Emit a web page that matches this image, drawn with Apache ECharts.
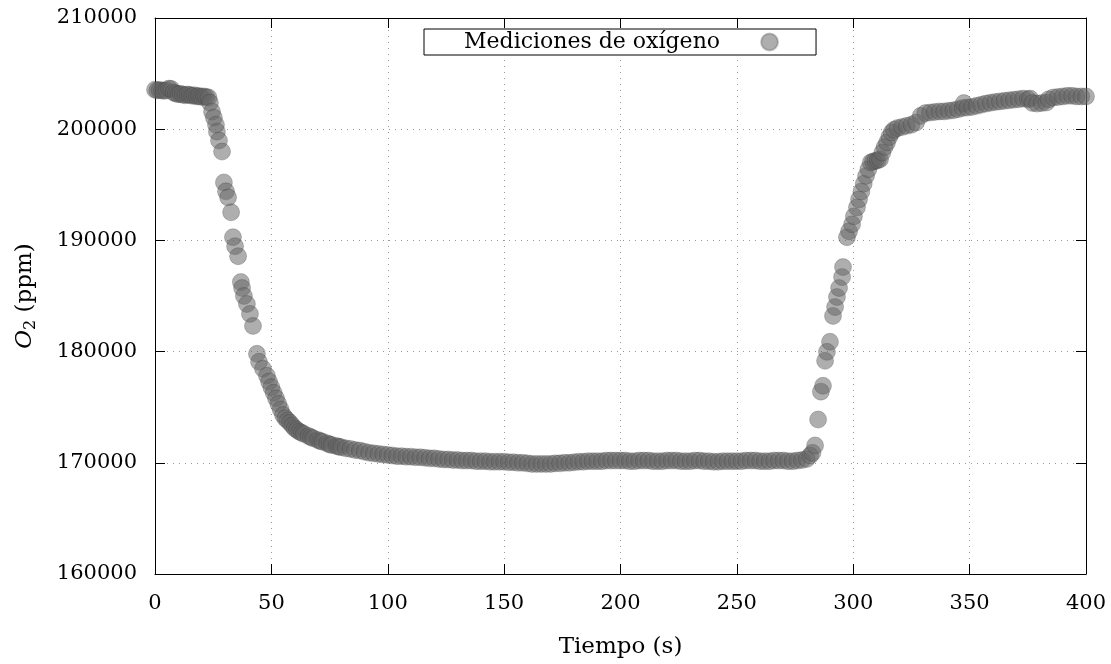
<!DOCTYPE html>
<html>
<head>
<meta charset="utf-8">
<title>Mediciones de oxígeno</title>
<script src="https://cdn.jsdelivr.net/npm/echarts@6/dist/echarts.min.js"></script>
<style>
  html, body { margin: 0; padding: 0; background: #fff; }
  #chart { width: 1111px; height: 664px; }
</style>
</head>
<body>
<div id="chart"></div>
<script>
// eje x: tiempo (s), eje y: O2 (ppm)
const xTicks = [0, 50, 100, 150, 200, 250, 300, 350, 400];
const yTicks = [160000, 170000, 180000, 190000, 200000, 210000];

// tramo inicial, antes de cerrar (t, ppm)
const inicio = [
  [0, 203550], [1, 203500], [2, 203520], [3, 203480], [4, 203450], [5, 203500],
  [6, 203650], [7, 203620], [8, 203300], [9, 203200], [10, 203150], [11, 203180],
  [12, 203100], [13, 203050], [14, 203120], [15, 203080], [16, 203000], [17, 203050],
  [18, 202950], [19, 202980], [20, 202900], [21, 202950], [22, 202900], [23, 202850]
];

// bajada del oxígeno
const bajada = [
  [23.6, 202380], [24.5, 201580], [25.3, 201040], [26.2, 200410], [26.6, 199780],
  [27.5, 198980], [28.8, 197990], [29.6, 195210], [30.5, 194410], [31.4, 193870],
  [32.7, 192530], [33.5, 190290], [34.4, 189480], [35.7, 188580], [36.9, 186250],
  [37.4, 185720], [38.2, 185000], [39.5, 184280], [40.8, 183390], [42.1, 182310],
  [43.8, 179800], [44.7, 179080], [46.4, 178460], [48.1, 177830], [49, 177300],
  [50, 176800], [51, 176300], [52, 175800], [53, 175300], [54, 174800],
  [55, 174300], [56, 174000], [57, 173800], [58, 173600], [59, 173350]
];

// meseta en ~170000
const meseta = [
  [60, 173100], [61, 172950], [62, 172800], [63, 172700], [64, 172600], [66, 172400],
  [67, 172300], [68, 172200], [70, 172050], [71, 171950], [72, 171900], [74, 171750],
  [75, 171650], [76, 171600], [78, 171500], [79, 171450], [80, 171400], [82, 171300],
  [84, 171250], [86, 171150], [88, 171100], [90, 171000], [92, 170900], [94, 170850],
  [96, 170800], [98, 170750], [100, 170700], [102, 170660], [104, 170600], [106, 170600],
  [108, 170550], [110, 170550], [112, 170500], [114, 170500], [116, 170450], [118, 170400],
  [120, 170400], [122, 170350], [124, 170300], [126, 170300], [128, 170250], [130, 170250],
  [132, 170200], [134, 170200], [136, 170200], [138, 170150], [140, 170150], [142, 170150],
  [144, 170100], [146, 170100], [148, 170100], [150, 170100], [152, 170050], [154, 170050],
  [156, 170000], [158, 170000], [160, 169950], [162, 169900], [164, 169900], [166, 169900],
  [168, 169900], [170, 169900], [172, 169950], [174, 169950], [176, 170000], [178, 170000],
  [180, 170050], [182, 170100], [184, 170100], [186, 170150], [188, 170150], [190, 170150],
  [192, 170150], [194, 170200], [196, 170200], [198, 170200], [200, 170200], [202, 170200],
  [204, 170150], [206, 170150], [208, 170200], [210, 170200], [212, 170200], [214, 170150],
  [216, 170150], [218, 170150], [220, 170200], [222, 170200], [224, 170200], [226, 170150],
  [228, 170150], [230, 170150], [232, 170200], [234, 170200], [236, 170150], [238, 170150],
  [240, 170100], [242, 170100], [244, 170150], [246, 170150], [248, 170150], [250, 170150],
  [252, 170150], [254, 170200], [256, 170200], [258, 170200], [260, 170150], [262, 170150],
  [264, 170150], [266, 170200], [268, 170200], [270, 170200], [272, 170150], [274, 170150],
  [276, 170200], [278, 170250], [280, 170350], [281.5, 170650], [282.5, 170900]
];

// subida al abrir
const subida = [
  [283.6, 171560], [284.9, 173890], [286.1, 176400], [287.0, 176930], [287.9, 179170],
  [288.7, 179980], [290.0, 180880], [291.3, 183210], [292.2, 184010], [293.0, 184910],
  [293.9, 185720], [295.2, 186700], [295.6, 187600], [297.3, 190290], [298.2, 190820],
  [299.5, 191450], [300.3, 192170], [301.6, 192970], [302.5, 193690], [303.5, 194400],
  [304.5, 195100], [305.5, 195800], [306.5, 196400], [307.5, 197000], [308.5, 197100],
  [309.5, 197150], [310.5, 197200], [311.5, 197300], [312.5, 197900], [313.5, 198400],
  [314.5, 198800], [315.5, 199300], [316.5, 199700], [317.5, 199950], [319, 200100],
  [321, 200200], [323, 200300], [325, 200400], [327, 200600], [329, 201200]
];

// tramo final
const final = [
  [331, 201450], [333, 201500], [335, 201550], [337, 201600], [339, 201600], [341, 201650],
  [343, 201700], [345, 201800], [347, 201900], [347.5, 202350], [349, 201950], [351, 202000],
  [353, 202100], [355, 202200], [357, 202300], [359, 202380], [361, 202450], [363, 202500],
  [365, 202550], [367, 202600], [369, 202650], [371, 202700], [373, 202750], [375, 202700],
  [376, 202750], [377, 202350], [379, 202300], [381, 202350], [383, 202400], [384, 202700],
  [386, 202850], [388, 202900], [390, 202950], [392, 203000], [394, 203000], [396, 202950],
  [398, 202950], [400, 202950]
];

const mediciones = [].concat(inicio, bajada, meseta, subida, final);

const fuente = 'DejaVu Serif';
const chart = echarts.init(document.getElementById('chart'));

const gridLine = { show: true, lineStyle: { color: '#999', width: 1, type: [1, 5] } };
const tick = { show: true, inside: true, length: 10, lineStyle: { color: '#000', width: 1 } };
const line = { show: true, onZero: false, lineStyle: { color: '#000', width: 1 } };

const option = {
  backgroundColor: '#fff',
  animation: false,
  textStyle: { fontFamily: fuente },
  grid: { left: 155, right: 25, top: 18, bottom: 88 },
  legend: {
    data: ['Mediciones de oxígeno'],
    left: 424, top: 29,
    align: 'right',
    padding: [2, 37, 2, 40],
    itemWidth: 17, itemHeight: 17,
    borderColor: '#000', borderWidth: 1, borderRadius: 0,
    backgroundColor: '#fff',
    textStyle: { fontFamily: fuente, fontSize: 22, color: '#000', padding: [0, 36, 0, 0] }
  },
  xAxis: [
    {
      type: 'value', min: 0, max: 400, interval: 50,
      name: 'Tiempo (s)', nameLocation: 'middle', nameGap: 62,
      nameTextStyle: { fontFamily: fuente, fontSize: 23, color: '#000' },
      axisLine: line, axisTick: tick, splitLine: gridLine,
      axisLabel: { margin: 19, fontFamily: fuente, fontSize: 21, color: '#000',
        formatter: v => xTicks.includes(v) ? String(v) : '' }
    },
    {
      type: 'value', position: 'top', min: 0, max: 400, interval: 50,
      axisLine: line, axisTick: tick, splitLine: { show: false }, axisLabel: { show: false }
    }
  ],
  yAxis: [
    {
      type: 'value', min: 160000, max: 210000, interval: 10000,
      name: '{it|O}{sub|2} (ppm)', nameLocation: 'middle', nameGap: 116, nameRotate: 90,
      nameTextStyle: {
        fontFamily: fuente, fontSize: 23, color: '#000',
        rich: {
          it: { fontFamily: fuente, fontStyle: 'italic', fontSize: 23, color: '#000' },
          sub: { fontFamily: fuente, fontSize: 16, color: '#000', padding: [11, 0, 0, 0] }
        }
      },
      axisLine: line, axisTick: tick, splitLine: gridLine,
      axisLabel: { margin: 18, fontFamily: fuente, fontSize: 21, color: '#000',
        formatter: v => yTicks.includes(v) ? String(v) : '' }
    },
    {
      type: 'value', position: 'right', min: 160000, max: 210000, interval: 10000,
      axisLine: line, axisTick: tick, splitLine: { show: false }, axisLabel: { show: false }
    }
  ],
  series: [
    {
      name: 'Mediciones de oxígeno',
      type: 'scatter',
      symbol: 'circle',
      symbolSize: 17,
      data: mediciones,
      itemStyle: { color: 'rgba(101,101,101,0.66)', borderColor: 'rgba(50,50,50,0.3)', borderWidth: 1 }
    }
  ]
};

chart.setOption(option);
</script>
</body>
</html>
